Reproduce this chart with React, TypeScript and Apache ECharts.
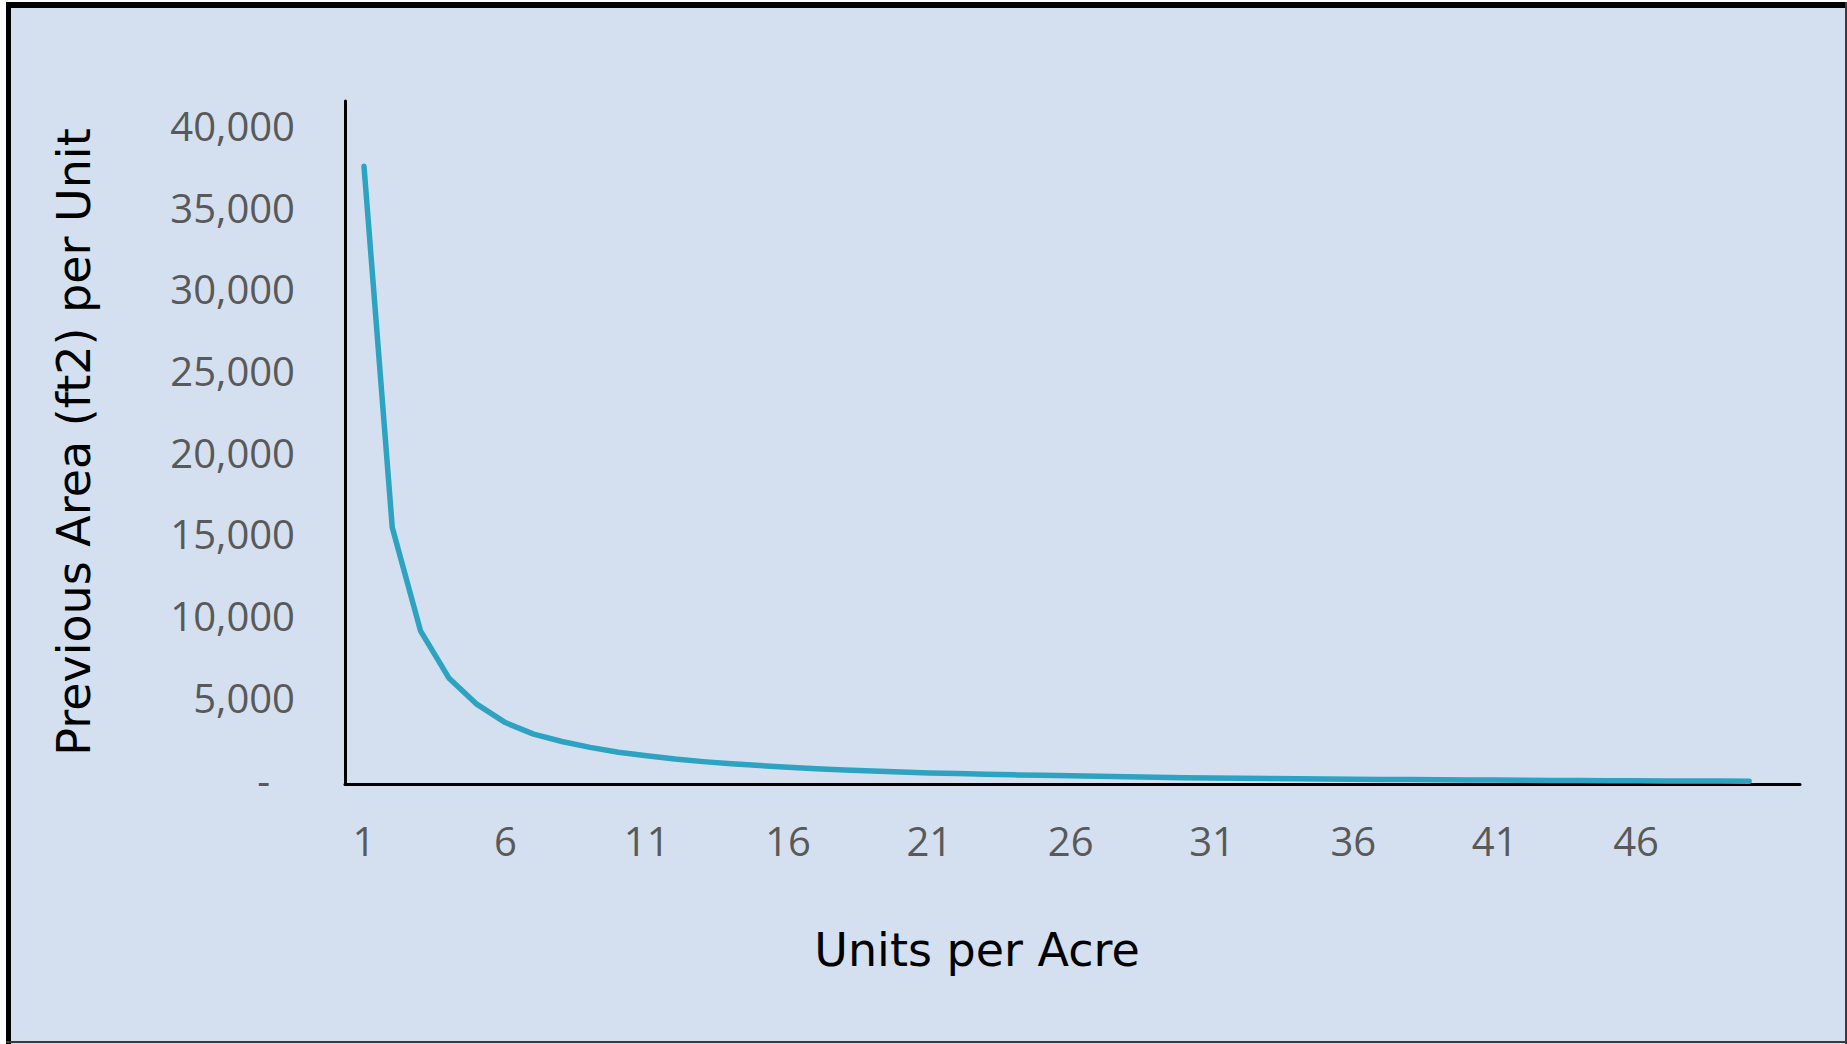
import React, { useEffect, useRef } from "react";
import * as echarts from "echarts";

// Units per acre (x categories)
const unitsPerAcre: number[] = [
  1, 2, 3, 4, 5, 6, 7, 8, 9, 10,
  11, 12, 13, 14, 15, 16, 17, 18, 19, 20,
  21, 22, 23, 24, 25, 26, 27, 28, 29, 30,
  31, 32, 33, 34, 35, 36, 37, 38, 39, 40,
  41, 42, 43, 44, 45, 46, 47, 48, 49, 50,
];

// Previous area (ft2) per unit
const previousArea: number[] = [
  37800, 15700, 9370, 6490, 4870, 3760, 3050, 2600, 2240, 1940,
  1730, 1530, 1370, 1240, 1130, 1030, 940, 860, 790, 730,
  680, 640, 600, 560, 530, 500, 470, 440, 410, 380,
  360, 345, 330, 315, 300, 290, 280, 270, 260, 250,
  240, 230, 220, 215, 205, 200, 190, 185, 180, 170,
];

const xTickLabels: number[] = [1, 6, 11, 16, 21, 26, 31, 36, 41, 46];
const yTickValues: number[] = [0, 5000, 10000, 15000, 20000, 25000, 30000, 35000, 40000];

const xAxisTitle = "Units per Acre";
const yAxisTitle = "Previous Area (ft2) per Unit";

export default function App() {
  const ref = useRef<HTMLDivElement>(null);

  useEffect(() => {
    if (!ref.current) return;
    const chart = echarts.init(ref.current, null, { renderer: "svg" });
    const W = 1847;
    const H = 1044;
    const seriesData = unitsPerAcre.map((u, i) => [u, previousArea[i]]);

    chart.setOption({
      animation: false,
      backgroundColor: "#D4E0EF",
      grid: { left: 345, right: W - 1800, top: 101, bottom: H - 784 },
      xAxis: {
        type: "value",
        min: 0.328,
        max: 51.8,
        splitLine: { show: false },
        axisTick: { show: false },
        axisLine: { show: true, onZero: false, lineStyle: { color: "#000", width: 3 } },
        axisLabel: {
          customValues: xTickLabels,
          margin: 36,
          color: "#595959",
          fontFamily: "Open Sans",
          fontSize: 40,
          formatter: (v: number) => (xTickLabels.indexOf(Math.round(v * 1000) / 1000) >= 0 ? String(v) : ""),
        },
      },
      yAxis: {
        type: "value",
        min: 0,
        max: 41800,
        interval: 5000,
        splitLine: { show: false },
        axisTick: { show: false },
        axisLine: { show: true, lineStyle: { color: "#000", width: 3 } },
        axisLabel: {
          customValues: yTickValues,
          margin: 50,
          color: "#595959",
          fontFamily: "Open Sans",
          fontSize: 40,
          padding: [0, 0, 10, 0],
          formatter: (v: number) => {
            if (yTickValues.indexOf(v) < 0) return "";
            if (v === 0) return "{d|-}";
            return v.toLocaleString("en-US");
          },
          rich: {
            d: {
              color: "#595959",
              fontFamily: "Open Sans",
              fontSize: 40,
              padding: [0, 25, 0, 0],
            },
          },
        },
      },
      series: [
        {
          type: "line",
          data: seriesData,
          showSymbol: false,
          symbol: "none",
          lineStyle: { color: "#2DA3C1", width: 5.5, cap: "round", join: "round" },
          z: 3,
        },
      ],
      graphic: [
        // white outer margins
        { type: "rect", z: 100, shape: { x: 0, y: 0, width: 6, height: H }, style: { fill: "#fff" } },
        { type: "rect", z: 100, shape: { x: 0, y: 0, width: W, height: 2 }, style: { fill: "#fff" } },
        // borders
        { type: "rect", z: 101, shape: { x: 6, y: 2, width: W - 6, height: 6 }, style: { fill: "#000" } },
        { type: "rect", z: 101, shape: { x: 6, y: 2, width: 5, height: H - 2 }, style: { fill: "#000" } },
        { type: "rect", z: 101, shape: { x: 6, y: H - 3, width: W - 6, height: 2 }, style: { fill: "#3a3a3a" } },
        { type: "rect", z: 101, shape: { x: W - 2, y: 2, width: 2, height: H - 2 }, style: { fill: "#3a3a3a" } },
        // axis titles
        {
          type: "text",
          x: 977,
          y: 950,
          style: {
            text: xAxisTitle,
            fill: "#000",
            fontFamily: "DejaVu Sans",
            fontSize: 46,
            align: "center",
            verticalAlign: "middle",
          },
        },
        {
          type: "text",
          x: 74,
          y: 442,
          rotation: Math.PI / 2,
          style: {
            text: yAxisTitle,
            fill: "#000",
            fontFamily: "DejaVu Sans",
            fontSize: 46,
            align: "center",
            verticalAlign: "middle",
          },
        },
      ],
    });

    return () => chart.dispose();
  }, []);

  return (
    <div
      ref={ref}
      style={{ position: "fixed", left: 0, top: 0, width: 1847, height: 1044 }}
    />
  );
}
